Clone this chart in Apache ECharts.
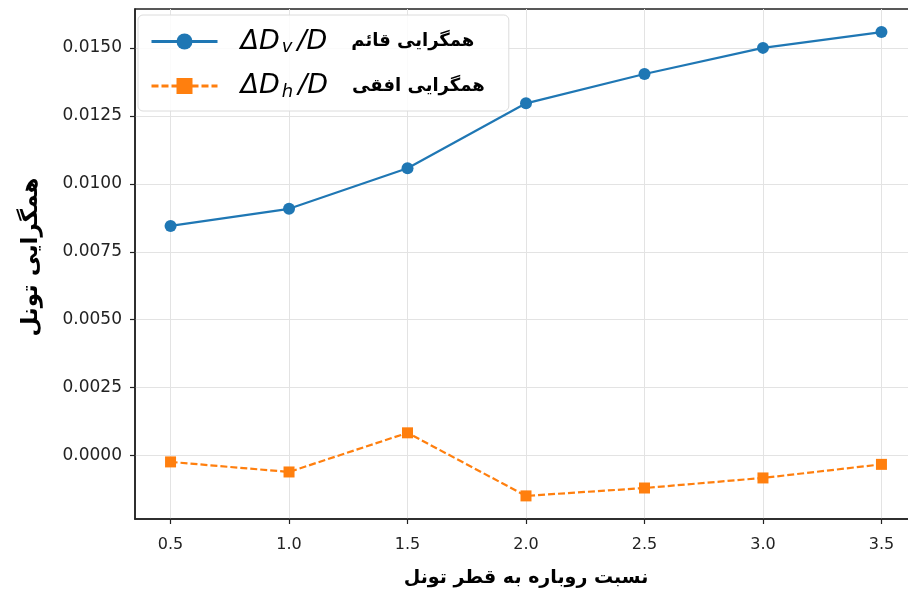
<!DOCTYPE html>
<html>
<head>
<meta charset="utf-8">
<title>همگرایی تونل</title>
<script src="https://cdn.jsdelivr.net/npm/echarts@6/dist/echarts.min.js"></script>
<style>
  html, body { margin: 0; padding: 0; background: #fff; }
  #chart { width: 908px; height: 594px; }
</style>
</head>
<body>
<div id="chart"></div>
<script>
// Cover-to-diameter ratio (x) and normalised tunnel convergence (y)
const coverRatio = [0.5, 1.0, 1.5, 2.0, 2.5, 3.0, 3.5];
const verticalConv = [0.00845, 0.00908, 0.01057, 0.01296, 0.01404, 0.01500, 0.01558];
const horizontalConv = [-0.00023, -0.00060, 0.00084, -0.00148, -0.00119, -0.00082, -0.00032];

// Tick positions on both axes
const xTicks = [0.5, 1.0, 1.5, 2.0, 2.5, 3.0, 3.5];
const yTicks = [0.0000, 0.0025, 0.0050, 0.0075, 0.0100, 0.0125, 0.0150];

// Legend text: subscript letter and Persian description for each series
const seriesKeys = ['dv', 'dh'];
const subscripts = ['v', 'h'];
const persianLabels = ['همگرایی قائم', 'همگرایی افقی'];

const xTitle = 'نسبت روباره به قطر تونل';
const yTitle = 'همگرایی تونل';

const BLUE = '#1f77b4';
const ORANGE = '#ff7f0e';
const INK = '#222';

function pairs(xs, ys) {
  return xs.map((x, i) => [x, ys[i]]);
}

const chart = echarts.init(document.getElementById('chart'), null, { renderer: 'canvas' });

const option = {
  backgroundColor: '#fff',
  animation: false,
  grid: {
    left: 135,
    top: 9,
    right: -9,
    bottom: 75,
    outerBoundsMode: 'none',
    show: true,
    borderColor: INK,
    borderWidth: 1.5,
    backgroundColor: 'transparent'
  },
  legend: {
    orient: 'vertical',
    left: 138,
    top: 15,
    padding: [13, 24, 10, 12],
    itemWidth: 66,
    itemHeight: 20,
    itemGap: 16,
    backgroundColor: 'rgba(255,255,255,0.85)',
    borderColor: '#dcdcdc',
    borderWidth: 1,
    borderRadius: 5,
    data: seriesKeys,
    lineStyle: { width: 3 },
    formatter: function (name) {
      const i = seriesKeys.indexOf(name);
      return '{d|ΔD}{s|' + subscripts[i] + '}{m|/D}{p|' + persianLabels[i] + '}';
    },
    textStyle: {
      color: '#000',
      rich: {
        d: { fontFamily: 'DejaVu Sans', fontStyle: 'italic', fontSize: 27, lineHeight: 30, padding: [0, 0, 0, 18] },
        s: { fontFamily: 'DejaVu Sans', fontStyle: 'italic', fontSize: 18, lineHeight: 17, verticalAlign: 'bottom', padding: [0, 5, 0, 2] },
        m: { fontFamily: 'DejaVu Sans', fontStyle: 'italic', fontSize: 27, lineHeight: 30 },
        p: { fontFamily: 'DejaVu Sans', fontWeight: 'bold', fontSize: 18, lineHeight: 30, padding: [0, 0, 0, 24] }
      }
    }
  },
  xAxis: {
    type: 'value',
    min: 0.35,
    max: 3.65,
    name: xTitle,
    nameLocation: 'middle',
    nameGap: 50,
    nameTextStyle: { fontFamily: 'DejaVu Sans', fontWeight: 'bold', fontSize: 19, color: '#000' },
    axisLine: { show: true, onZero: false, lineStyle: { color: INK, width: 1.5 } },
    axisTick: { show: true, length: 5, lineStyle: { color: INK, width: 1.2 }, customValues: xTicks },
    axisLabel: {
      customValues: xTicks,
      margin: 18,
      fontFamily: 'DejaVu Sans',
      fontSize: 16,
      color: INK,
      formatter: v => v.toFixed(1)
    },
    splitLine: { show: true, lineStyle: { color: '#e3e3e3', width: 1 } }
  },
  yAxis: {
    type: 'value',
    min: -0.00233,
    max: 0.01643,
    name: yTitle,
    nameLocation: 'middle',
    nameGap: 92,
    nameRotate: 90,
    nameTextStyle: { fontFamily: 'DejaVu Sans', fontWeight: 'bold', fontSize: 23, color: '#000', padding: [0, 0, 0, 14] },
    axisLine: { show: true, onZero: false, lineStyle: { color: INK, width: 1.5 } },
    axisTick: { show: true, length: 5, lineStyle: { color: INK, width: 1.2 }, customValues: yTicks },
    axisLabel: {
      customValues: yTicks,
      margin: 13,
      fontFamily: 'DejaVu Sans',
      fontSize: 17,
      color: INK,
      formatter: v => v.toFixed(4)
    },
    splitLine: { show: true, lineStyle: { color: '#e3e3e3', width: 1 } }
  },
  series: [
    {
      name: seriesKeys[0],
      type: 'line',
      data: pairs(coverRatio, verticalConv),
      symbol: 'circle',
      symbolSize: 12,
      color: BLUE,
      lineStyle: { color: BLUE, width: 2.2 },
      itemStyle: { color: BLUE },
      z: 3
    },
    {
      name: seriesKeys[1],
      type: 'line',
      data: pairs(coverRatio, horizontalConv),
      symbol: 'rect',
      symbolSize: 11,
      color: ORANGE,
      lineStyle: { color: ORANGE, width: 2.2, type: [7, 3] },
      itemStyle: { color: ORANGE },
      z: 3
    }
  ]
};

chart.setOption(option);
</script>
</body>
</html>
